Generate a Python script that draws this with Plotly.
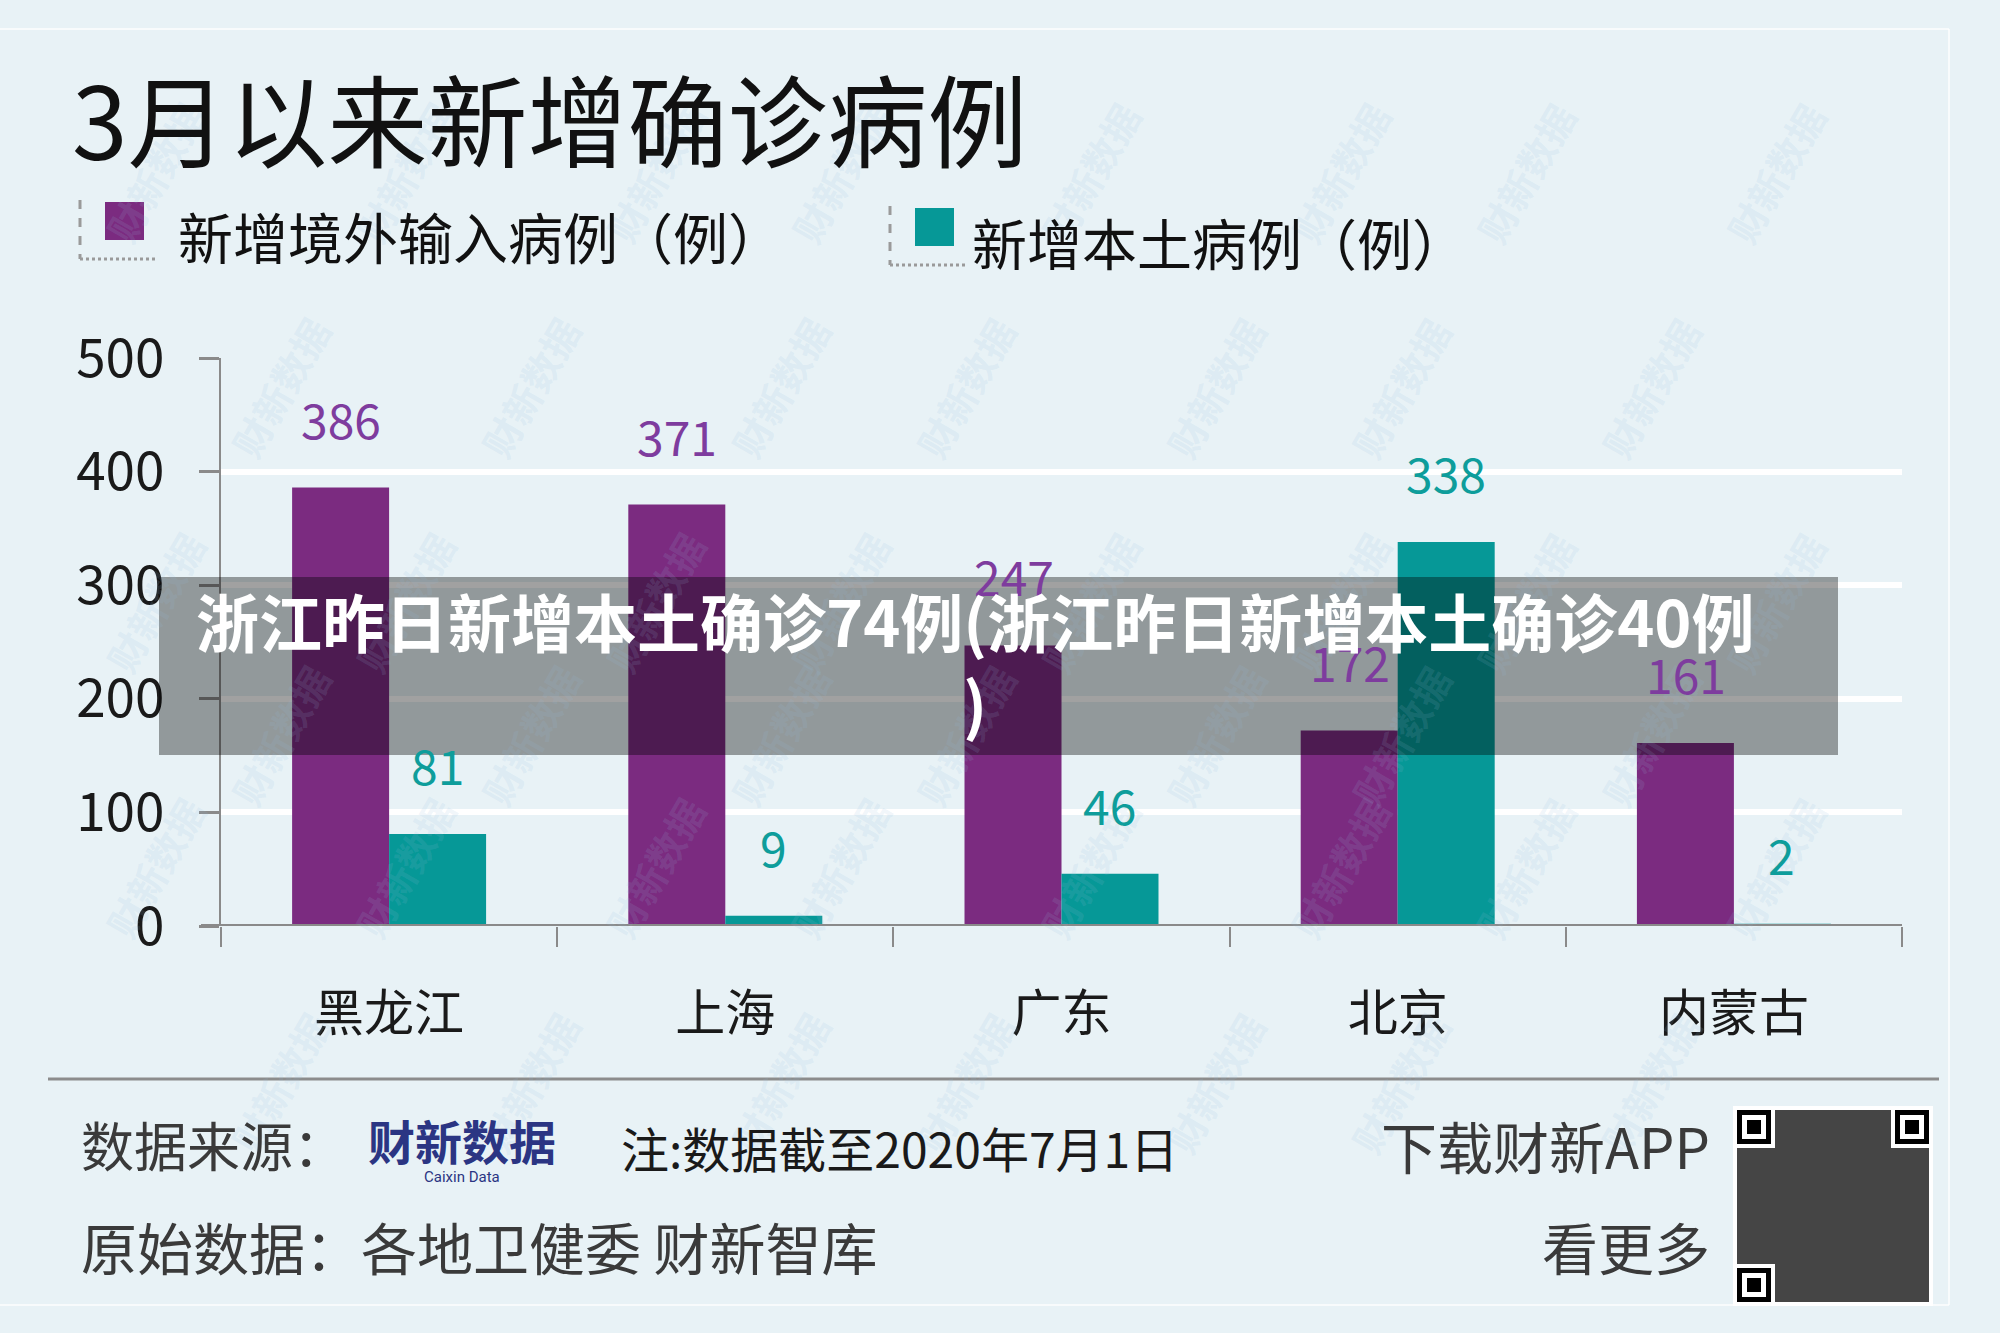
import plotly.graph_objects as go

# ─── Data ────────────────────────────────────────────────────────────────────
categories = ["黑龙江", "上海", "广东", "北京", "内蒙古"]
imported_cases = [386, 371, 247, 172, 161]
local_cases = [81, 9, 46, 338, 2]
y_ticks = [0, 100, 200, 300, 400, 500]

# ─── Colors / geometry ───────────────────────────────────────────────────────
BG_COLOR = "#E8F2F6"
PURPLE = "#7B2B80"
TEAL = "#069897"
PURPLE_TEXT = "#7E3C9E"
TEAL_TEXT = "#0E9D9B"
AXIS_GRAY = "#8A8A8A"
FONT = "Noto Sans CJK SC"

W, H = 2000, 1333
L, R, T, B = 221, 98, 358, 407
PW, PH = W - L - R, H - T - B


def px(x):
    """pixel x -> paper x"""
    return (x - L) / PW


def py(y):
    """pixel y (from top) -> paper y"""
    return (H - B - y) / PH


fig = go.Figure()

fig.add_trace(go.Bar(
    x=categories, y=imported_cases, name="新增境外输入病例（例）",
    marker=dict(color=PURPLE, line=dict(width=0)),
))
fig.add_trace(go.Bar(
    x=categories, y=local_cases, name="新增本土病例（例）",
    marker=dict(color=TEAL, line=dict(width=0)),
))

annotations = []
shapes = []

# watermarks, kept inside the canvas
for row, wy in enumerate(range(90, 1280, 215)):
    off = 0 if row % 2 == 0 else 125
    for wx in range(90 + off, 1930, 250):
        annotations.append(dict(
            x=px(wx), y=py(wy), xref="paper", yref="paper", text="<b>财新数据</b>",
            showarrow=False, textangle=-60,
            font=dict(family=FONT, size=38, color="rgba(150,190,222,0.15)"),
        ))

# bar value labels
for cat, v in zip(categories, imported_cases):
    annotations.append(dict(
        x=cat, y=v, xref="x", yref="y", text=str(v), showarrow=False,
        xshift=-48, yshift=70, font=dict(family=FONT, size=48, color=PURPLE_TEXT),
    ))
for cat, v in zip(categories, local_cases):
    annotations.append(dict(
        x=cat, y=v, xref="x", yref="y", text=str(v), showarrow=False,
        xshift=48, yshift=70, font=dict(family=FONT, size=48, color=TEAL_TEXT),
    ))

# title
annotations.append(dict(
    x=px(70), y=py(116), xref="paper", yref="paper", xanchor="left", yanchor="middle",
    text="3月以来新增确诊病例", showarrow=False,
    font=dict(family=FONT, size=100, color="#111111"),
))

# legend
legend_items = [
    (80, 105, 202, PURPLE, 176, 235, "新增境外输入病例（例）"),
    (890, 915, 208, TEAL, 970, 241, "新增本土病例（例）"),
]
for bx, sx, sy, col, tx, ty, label in legend_items:
    shapes.append(dict(type="rect", xref="paper", yref="paper",
                       x0=px(sx), x1=px(sx + 39), y0=py(sy), y1=py(sy + 38),
                       fillcolor=col, line=dict(width=0)))
    shapes.append(dict(type="line", xref="paper", yref="paper",
                       x0=px(bx), x1=px(bx), y0=py(sy - 2), y1=py(sy + 57),
                       line=dict(color="#9A9A9A", width=3, dash="dash")))
    shapes.append(dict(type="line", xref="paper", yref="paper",
                       x0=px(bx), x1=px(bx + 78), y0=py(sy + 57), y1=py(sy + 57),
                       line=dict(color="#9A9A9A", width=3, dash="dot")))
    annotations.append(dict(
        x=px(tx), y=py(ty), xref="paper", yref="paper", xanchor="left", yanchor="middle",
        text=label, showarrow=False, font=dict(family=FONT, size=55, color="#111111"),
    ))

# x-axis baseline extended to the left tick
shapes.append(dict(type="line", xref="paper", yref="y", x0=px(201), x1=1, y0=0, y1=0,
                   line=dict(color=AXIS_GRAY, width=4)))

# footer
shapes.append(dict(type="line", xref="paper", yref="paper", x0=px(48), x1=px(1939),
                   y0=py(1079), y1=py(1079), line=dict(color="#8C8C8C", width=3)))
footer = [
    (79, 1144, "left", "数据来源：", "#3A3A3A", 53),
    (619, 1147, "left", "注:数据截至2020年7月1日", "#1A1A1A", 48),
    (1712, 1144, "right", "下载财新APP", "#3A3A3A", 56),
    (79, 1245, "left", "原始数据：各地卫健委 财新智库", "#3A3A3A", 56),
    (1712, 1245, "right", "看更多", "#3A3A3A", 56),
]
for fx, fy, anchor, text, col, size in footer:
    annotations.append(dict(
        x=px(fx), y=py(fy), xref="paper", yref="paper", xanchor=anchor, yanchor="middle",
        text=text, showarrow=False, font=dict(family=FONT, size=size, color=col),
    ))
annotations.append(dict(
    x=px(462), y=py(1139), xref="paper", yref="paper", xanchor="center", yanchor="middle",
    text="<b>财新数据</b>", showarrow=False, font=dict(family=FONT, size=47, color="#2B3583"),
))
annotations.append(dict(
    x=px(462), y=py(1177), xref="paper", yref="paper", xanchor="center", yanchor="middle",
    text="Caixin Data", showarrow=False, font=dict(family="Roboto", size=15, color="#2B3583"),
))

# QR code block
qx0, qy0, qs = 1737, 1110, 192
shapes.append(dict(type="rect", xref="paper", yref="paper", x0=px(qx0 - 4), x1=px(qx0 + qs + 4),
                   y0=py(qy0 - 4), y1=py(qy0 + qs + 4), fillcolor="white", line=dict(width=0)))
shapes.append(dict(type="rect", xref="paper", yref="paper", x0=px(qx0), x1=px(qx0 + qs),
                   y0=py(qy0), y1=py(qy0 + qs), fillcolor="#454545", line=dict(width=0)))
fs = 34
for fx0, fy0 in [(qx0, qy0), (qx0 + qs - fs, qy0), (qx0, qy0 + qs - fs)]:
    shapes.append(dict(type="rect", xref="paper", yref="paper", x0=px(fx0 - 4), x1=px(fx0 + fs + 4),
                       y0=py(fy0 - 4), y1=py(fy0 + fs + 4), fillcolor="white", line=dict(width=0)))
    shapes.append(dict(type="rect", xref="paper", yref="paper", x0=px(fx0), x1=px(fx0 + fs),
                       y0=py(fy0), y1=py(fy0 + fs), fillcolor="black", line=dict(width=0)))
    shapes.append(dict(type="rect", xref="paper", yref="paper", x0=px(fx0 + 5), x1=px(fx0 + fs - 5),
                       y0=py(fy0 + 5), y1=py(fy0 + fs - 5), fillcolor="white", line=dict(width=0)))
    shapes.append(dict(type="rect", xref="paper", yref="paper", x0=px(fx0 + 10), x1=px(fx0 + fs - 10),
                       y0=py(fy0 + 10), y1=py(fy0 + fs - 10), fillcolor="black", line=dict(width=0)))

# card edges
for x0, x1, y0, y1 in [(1949, 1949, 29, 1305), (0, 1949, 29, 29), (0, 1949, 1305, 1305)]:
    shapes.append(dict(type="line", xref="paper", yref="paper", x0=px(x0), x1=px(x1),
                       y0=py(y0), y1=py(y1), line=dict(color="rgba(255,255,255,0.7)", width=2)))

# dark headline overlay band
shapes.append(dict(type="rect", xref="paper", yref="paper", layer="above",
                   x0=px(159), x1=px(1838), y0=py(577), y1=py(755),
                   fillcolor="rgba(0,0,0,0.37)", line=dict(width=0)))
annotations.append(dict(
    x=px(975), y=py(660), xref="paper", yref="paper", xanchor="center", yanchor="middle",
    text="<b>浙江昨日新增本土确诊74例(浙江昨日新增本土确诊40例<br>)</b>", align="center",
    showarrow=False, font=dict(family=FONT, size=63, color="white"),
))

fig.update_layout(
    width=W, height=H,
    margin=dict(l=L, r=R, t=T, b=B),
    paper_bgcolor=BG_COLOR,
    plot_bgcolor=BG_COLOR,
    barmode="group",
    bargap=0.423,
    bargroupgap=0,
    showlegend=False,
    font=dict(family=FONT, color="#222222"),
    xaxis=dict(
        type="category",
        showgrid=False,
        showline=False,
        zeroline=False,
        ticks="outside",
        tickson="boundaries",
        ticklen=20,
        tickwidth=2,
        tickcolor=AXIS_GRAY,
        ticklabelstandoff=54,
        tickfont=dict(family=FONT, size=50, color="#1A1A1A"),
    ),
    yaxis=dict(
        range=[0, 500],
        tickvals=y_ticks,
        showgrid=True,
        gridcolor="white",
        gridwidth=6,
        zeroline=False,
        showline=True,
        linecolor=AXIS_GRAY,
        linewidth=2,
        ticks="outside",
        ticklen=20,
        tickwidth=3,
        tickcolor=AXIS_GRAY,
        ticklabelstandoff=24,
        tickfont=dict(family=FONT, size=53, color="#1A1A1A"),
    ),
    shapes=shapes,
    annotations=annotations,
)

fig.write_html("out.html", config={"displayModeBar": False},
               post_script="document.body.style.margin = '0';")
